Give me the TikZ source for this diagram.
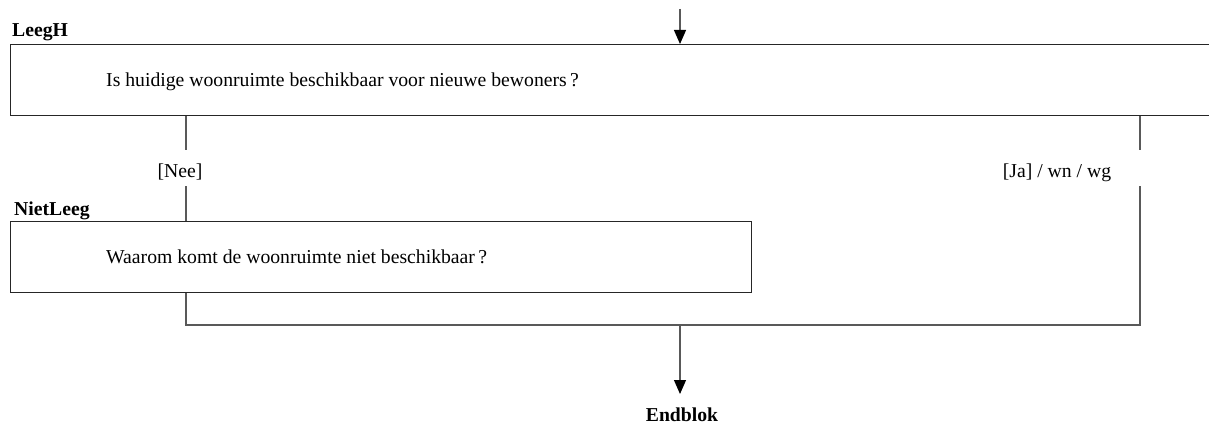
\documentclass[tikz,border=0pt]{standalone}
\usepackage{fontspec}
\setmainfont{Liberation Serif}
\usetikzlibrary{arrows.meta}
\begin{document}
\begin{tikzpicture}[x=1pt,y=-1pt,
  box/.style={draw=black!85, line width=1.1pt, inner sep=0pt},
  conn/.style={draw=black!65, line width=1.1pt},
  arr/.style={conn, -{Triangle[width=12pt,length=14pt,color=black]}},
  qtext/.style={font=\fontsize{19.7}{23}\selectfont, inner sep=0pt, anchor=base west},
  lbl/.style={font=\fontsize{19.7}{23}\selectfont\bfseries, inner sep=0pt, anchor=base west},
  ans/.style={font=\fontsize{19.7}{23}\selectfont, inner sep=0pt, anchor=base},
]
\useasboundingbox (0,0) rectangle (1209,428);
\clip (0,0) rectangle (1209,428);
\fill[white] (0,0) rectangle (1209,428);

% question LeegH
\node[box, anchor=north west, minimum width=1230pt, minimum height=71pt] (leegh) at (10,44) {};
\node[lbl] (leeghname) at (12,37) {LeegH};
\node[qtext] (leeghq) at (106,86) {Is huidige woonruimte beschikbaar voor nieuwe bewoners\,?};

% incoming arrow
\coordinate (start) at (680,9);
\draw[arr] (start) -- (leegh.north -| start);

% branch labels
\coordinate (lx) at (186,0);
\coordinate (rx) at (1140,0);
\node[ans] (nee) at (180,177) {[Nee]};
\node[ans] (ja) at (1057,177) {[Ja] / wn / wg};

% question NietLeeg
\node[box, anchor=north west, minimum width=741pt, minimum height=71pt] (nietleeg) at (10,221) {};
\node[lbl] (nietleegname) at (14,215) {NietLeeg};
\node[qtext] (nietleegq) at (106,263) {Waarom komt de woonruimte niet beschikbaar\,?};

% connectors
\coordinate (neeTop) at (186,150);
\coordinate (neeBot) at (186,186);
\coordinate (jaTop) at (1140,150);
\coordinate (jaBot) at (1140,186);
\coordinate (joinL) at (186,325);
\coordinate (joinR) at (1140,325);
\coordinate (join) at (680,325);

\draw[conn] (leegh.south -| lx) -- (neeTop);
\draw[conn] (neeBot) -- (nietleeg.north -| lx);
\draw[conn] (leegh.south -| rx) -- (jaTop);
\draw[conn] (nietleeg.south -| lx) -- (joinL) -- (joinR) -- (jaBot);

% end
\node[lbl, anchor=base] (endblok) at (682,421) {Endblok};
\draw[arr] (join) -- (680,394);
\end{tikzpicture}
\end{document}
